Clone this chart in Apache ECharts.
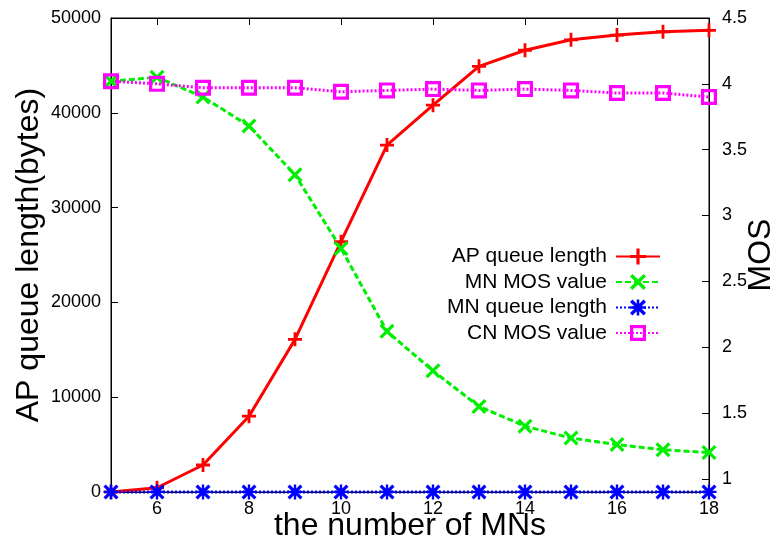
<!DOCTYPE html>
<html>
<head>
<meta charset="utf-8">
<script src="https://cdn.jsdelivr.net/npm/echarts@6/dist/echarts.min.js"></script>
<style>
html, body { margin: 0; padding: 0; background: #fff; }
#chart { width: 779px; height: 544px; }
</style>
</head>
<body>
<div id="chart"></div>
<script>
// number of MNs
var mns = [5, 6, 7, 8, 9, 10, 11, 12, 13, 14, 15, 16, 17, 18];
// left axis (bytes)
var apQueue = [0, 450, 2850, 8000, 16100, 26400, 36600, 40800, 44900, 46600, 47700, 48200, 48550, 48700];
var mnQueue = [10, 10, 10, 10, 10, 10, 10, 10, 10, 10, 10, 10, 10, 10];
// right axis (MOS)
var mnMos = [4.02, 4.05, 3.90, 3.68, 3.31, 2.75, 2.12, 1.82, 1.55, 1.40, 1.31, 1.26, 1.22, 1.20];
var cnMos = [4.02, 4.00, 3.97, 3.97, 3.97, 3.94, 3.95, 3.96, 3.95, 3.96, 3.95, 3.93, 3.93, 3.90];

var xTicks = [6, 8, 10, 12, 14, 16, 18];
var mosTicks = [1, 1.5, 2, 2.5, 3, 3.5, 4, 4.5];

var font = "'Liberation Sans', Arial, sans-serif";

var plusPath = 'path://M4,0L6,0L6,4L10,4L10,6L6,6L6,10L4,10L4,6L0,6L0,4L4,4Z';
var crossD = 'M0,1.5L1.5,0L5,3.5L8.5,0L10,1.5L6.5,5L10,8.5L8.5,10L5,6.5L1.5,10L0,8.5L3.5,5Z';
var crossPath = 'path://' + crossD;
var starPath = 'path://M4.2,0L5.8,0L5.8,4.2L10,4.2L10,5.8L5.8,5.8L5.8,10L4.2,10L4.2,5.8L0,5.8L0,4.2L4.2,4.2Z' + crossD;
var boxPath = 'path://M0,0L10,0L10,10L0,10ZM2,2L2,8L8,8L8,2Z';

function pairs(ys) {
    return mns.map(function (x, i) { return [x, ys[i]]; });
}

var myChart = echarts.init(document.getElementById('chart'));

var option = {
    animation: false,
    textStyle: { fontFamily: font },
    grid: {
        left: 111, right: 70, top: 18, bottom: 52,
        outerBoundsMode: 'none',
        containLabel: false,
        show: true, borderColor: '#000', borderWidth: 1, backgroundColor: 'transparent'
    },
    legend: {
        orient: 'vertical',
        right: 113,
        top: 241,
        align: 'right',
        itemWidth: 44,
        itemHeight: 20,
        itemGap: 4.5,
        textStyle: { fontSize: 21, color: '#000', fontFamily: font, padding: [0, 4, 0, 0] },
        data: ['AP queue length', 'MN MOS value', 'MN queue length', 'CN MOS value']
    },
    xAxis: [{
        type: 'value',
        min: 5, max: 18,
        name: 'the number of MNs',
        nameLocation: 'middle',
        nameGap: 18,
        nameMoveOverlap: false,
        nameTextStyle: { fontSize: 32, color: '#000', fontFamily: font },
        axisLine: { lineStyle: { color: '#000', width: 1 } },
        axisTick: { inside: true, length: 7, customValues: xTicks, lineStyle: { color: '#000' } },
        axisLabel: { customValues: xTicks, fontSize: 18, color: '#000', margin: 8 },
        splitLine: { show: false }
    }, {
        type: 'value',
        position: 'top',
        min: 5, max: 18,
        axisLine: { lineStyle: { color: '#000', width: 1 } },
        axisTick: { inside: true, length: 7, customValues: xTicks, lineStyle: { color: '#000' } },
        axisLabel: { show: false },
        splitLine: { show: false }
    }],
    yAxis: [{
        type: 'value',
        min: 0, max: 50000, interval: 10000,
        name: 'AP queue length(bytes)',
        nameLocation: 'middle',
        nameRotate: 90,
        nameGap: 66,
        nameMoveOverlap: false,
        nameTextStyle: { fontSize: 32, color: '#000', fontFamily: font },
        axisLine: { show: true, lineStyle: { color: '#000', width: 1 } },
        axisTick: { show: true, inside: true, length: 7, lineStyle: { color: '#000' } },
        axisLabel: {
            fontSize: 18, color: '#000', margin: 10,
            formatter: function (v) { return String(v); }
        },
        splitLine: { show: false }
    }, {
        type: 'value',
        position: 'right',
        min: 0.9, max: 4.5,
        name: 'MOS',
        nameLocation: 'middle',
        nameRotate: 90,
        nameGap: 36,
        nameMoveOverlap: false,
        nameTextStyle: { fontSize: 32, color: '#000', fontFamily: font },
        axisLine: { show: true, lineStyle: { color: '#000', width: 1 } },
        axisTick: { show: true, inside: true, length: 7, customValues: mosTicks, lineStyle: { color: '#000' } },
        axisLabel: { customValues: mosTicks, fontSize: 18, color: '#000', margin: 13 },
        splitLine: { show: false }
    }],
    series: [{
        name: 'AP queue length',
        type: 'line',
        yAxisIndex: 0,
        data: pairs(apQueue),
        clip: false,
        symbol: plusPath,
        symbolSize: 14,
        itemStyle: { color: '#ff0000' },
        lineStyle: { color: '#ff0000', width: 3 }
    }, {
        name: 'MN MOS value',
        type: 'line',
        yAxisIndex: 1,
        data: pairs(mnMos),
        clip: false,
        symbol: crossPath,
        symbolSize: 15,
        itemStyle: { color: '#00ee00' },
        lineStyle: { color: '#00ee00', width: 3, type: [6, 3] }
    }, {
        name: 'MN queue length',
        type: 'line',
        yAxisIndex: 0,
        data: pairs(mnQueue),
        clip: false,
        symbol: starPath,
        symbolSize: 15,
        itemStyle: { color: '#0000ff' },
        lineStyle: { color: '#0000ff', width: 3, type: [2, 2] }
    }, {
        name: 'CN MOS value',
        type: 'line',
        yAxisIndex: 1,
        data: pairs(cnMos),
        clip: false,
        symbol: boxPath,
        symbolSize: 16,
        itemStyle: { color: '#ff00ff' },
        lineStyle: { color: '#ff00ff', width: 3, type: [2, 2] }
    }]
};

myChart.setOption(option);
</script>
</body>
</html>
